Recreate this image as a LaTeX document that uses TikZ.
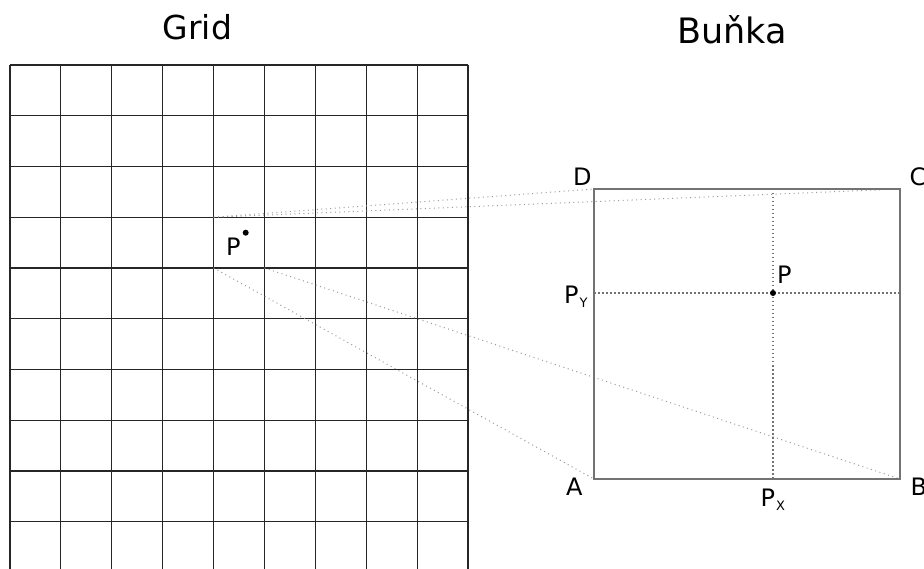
\documentclass[tikz,border=0pt]{standalone}
\usepackage{fontspec}
\setmainfont{DejaVu Sans}
\begin{document}
\begin{tikzpicture}[x=1pt,y=-1pt,
  gridline/.style={draw=black!85,line width=1.2pt},
  cellbox/.style={draw=black!55,line width=1.3pt},
  crossline/.style={draw=black!55,line width=1.2pt,dash pattern=on 1.5pt off 2.5pt},
  projline/.style={draw=black!40,line width=1pt,dash pattern=on 1pt off 3.5pt},
  lbl/.style={inner sep=0pt,anchor=base west,font=\fontsize{24}{28}\selectfont},
  ttl/.style={inner sep=0pt,anchor=base west},
  pdot/.style={circle,fill=black,inner sep=0pt,minimum size=6pt}]
\useasboundingbox (0,0) rectangle (924,569);
% grid
\foreach \i in {0,...,9} \draw[gridline] ({10+50.89*\i},65) -- ({10+50.89*\i},569);
\foreach \j in {0,...,9} \draw[gridline] (10,{65+50.74*\j}) -- (468,{65+50.74*\j});
% grid cell corners
\coordinate (gTL) at (213.56,217.22);
\coordinate (gTR) at (264.45,217.22);
\coordinate (gBL) at (213.56,267.96);
\coordinate (gBR) at (264.45,267.96);
% cell corners
\coordinate (cA) at (594,479);
\coordinate (cB) at (900,479);
\coordinate (cC) at (900,189);
\coordinate (cD) at (594,189);
\coordinate (pxt) at (773,189);
\coordinate (pxb) at (773,479);
\coordinate (pyl) at (594,293);
\coordinate (pyr) at (900,293);
% projection lines
\draw[projline] (gTL) -- (cD);
\draw[projline] (gTL) -- (cC);
\draw[projline] (gBL) -- (cA);
\draw[projline] (gBR) -- (cB);
% cross lines
\draw[crossline] (pxt) -- (pxb);
\draw[crossline] (pyl) -- (pyr);
% cell box
\draw[cellbox] (cA) -- (cB) -- (cC) -- (cD) -- cycle;
% points
\node[pdot] (gP) at (245.7,232.7) {};
\node[pdot] (bP) at (773,293) {};
% titles
\node[ttl,font=\fontsize{33}{40}\selectfont] (tGrid) at (162.5,39.3) {Grid};
\node[ttl,font=\fontsize{35}{42}\selectfont] (tCell) at (677,43.3) {Buňka};
% labels
\node[lbl] (lD) at (573,185.7) {D};
\node[lbl] (lC) at (909.5,186) {C};
\node[lbl] (lA) at (566,495.5) {A};
\node[lbl] (lB) at (910.5,495) {B};
\node[lbl] (lgP) at (226,256) {P};
\node[lbl] (lbP) at (777,284) {P};
\node[lbl] (lPx) at (760.5,506) {P\kern1pt\raisebox{-4pt}{\fontsize{13}{13}\selectfont X}};
\node[lbl] (lPy) at (564,303.3) {P\kern1pt\raisebox{-4pt}{\fontsize{13}{13}\selectfont Y}};
\end{tikzpicture}
\end{document}
